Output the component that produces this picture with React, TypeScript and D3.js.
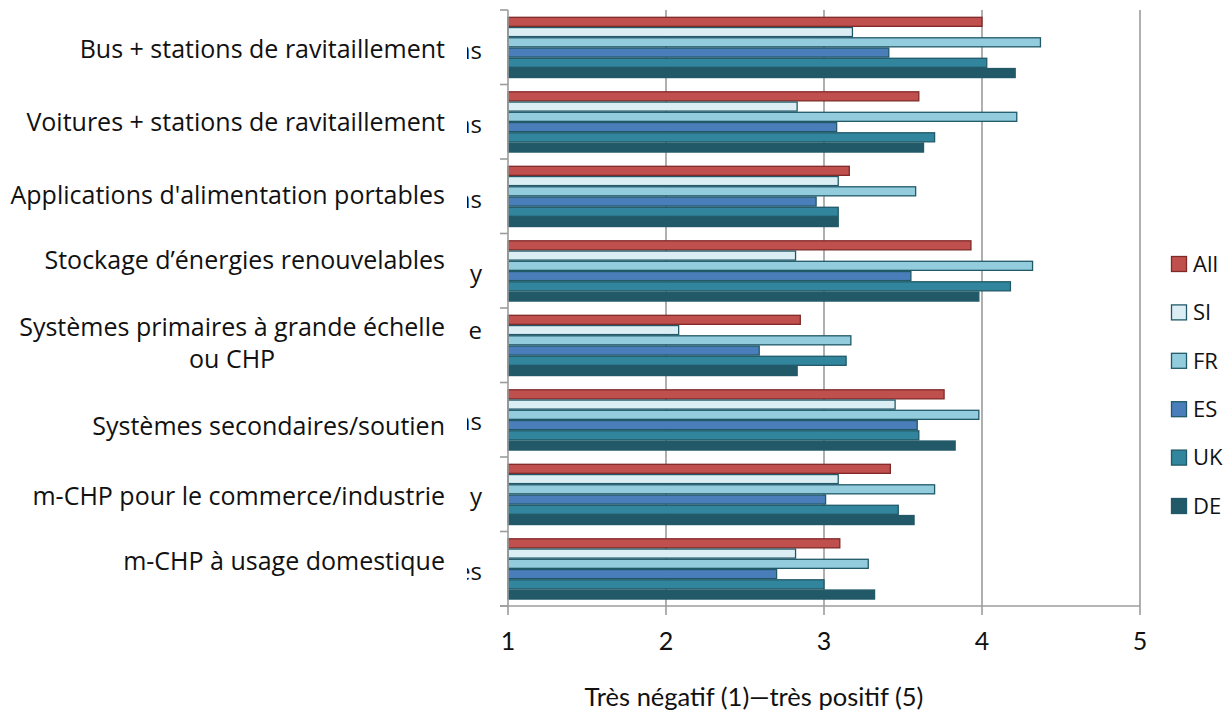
import React, { useRef, useEffect } from 'react';
import * as d3 from 'd3';

const categories = [
  'Bus + stations de ravitaillement',
  'Voitures + stations de ravitaillement',
  "Applications d'alimentation portables",
  'Stockage d’énergies renouvelables',
  'Systèmes primaires à grande échelle\nou CHP',
  'Systèmes secondaires/soutien',
  'm-CHP pour le commerce/industrie',
  'm-CHP à usage domestique',
];

// leftovers of the old labels that peek out next to the axis
const ghostLabels = ['ns', 'ns', 'ns', 'y', 'e', 'ns', 'y', 'es'];

const seriesNames = ['All', 'SI', 'FR', 'ES', 'UK', 'DE'];

const allValues = [4.0, 3.6, 3.16, 3.93, 2.85, 3.76, 3.42, 3.1];
const siValues = [3.18, 2.83, 3.09, 2.82, 2.08, 3.45, 3.09, 2.82];
const frValues = [4.37, 4.22, 3.58, 4.32, 3.17, 3.98, 3.7, 3.28];
const esValues = [3.41, 3.08, 2.95, 3.55, 2.59, 3.59, 3.01, 2.7];
const ukValues = [4.03, 3.7, 3.09, 4.18, 3.14, 3.6, 3.47, 3.0];
const deValues = [4.21, 3.63, 3.09, 3.98, 2.83, 3.83, 3.57, 3.32];

const xTicks = [1, 2, 3, 4, 5];
const xTitle = 'Très négatif (1)—très positif (5)';

const FILLS = ['#c0504d', '#dbeef3', '#93cddd', '#4a7ebb', '#31859c', '#215968'];
const STROKES = ['#7f2a28', '#215968', '#215968', '#215968', '#215968', '#215968'];

const W = 1227;
const H = 714;

export default function App() {
  const svgRef = useRef<SVGSVGElement>(null);

  useEffect(() => {
    document.body.style.margin = '0';
    document.body.style.overflow = 'hidden';

    const svg = d3.select(svgRef.current);
    svg.selectAll('*').remove();

    const series = [allValues, siValues, frValues, esValues, ukValues, deValues];
    const margin = { top: 10, right: 87, bottom: 108, left: 508 };
    const labelFont = '"Open Sans", sans-serif';
    const axisFont = 'Lato, "Open Sans", sans-serif';
    const gridColor = '#9c9c9c';

    const x = d3.scaleLinear().domain([1, 5]).range([margin.left, W - margin.right]);
    const y = d3.scaleBand<number>()
      .domain(d3.range(categories.length))
      .range([margin.top, H - margin.bottom])
      .paddingInner(0)
      .paddingOuter(0);
    const inner = d3.scaleBand<number>()
      .domain(d3.range(seriesNames.length))
      .range([y.bandwidth() * 0.09, y.bandwidth() * 0.915]);

    const plotBottom = H - margin.bottom;

    // vertical gridlines (plus tick marks below the axis)
    svg.append('g')
      .selectAll('line')
      .data(xTicks.slice(1))
      .join('line')
      .attr('x1', d => x(d))
      .attr('x2', d => x(d))
      .attr('y1', margin.top)
      .attr('y2', plotBottom + 9)
      .attr('stroke', gridColor)
      .attr('stroke-width', 1.6);

    // bars
    series.forEach((vals, si) => {
      svg.append('g')
        .selectAll('rect')
        .data(vals)
        .join('rect')
        .attr('x', x(1))
        .attr('y', (d, i) => (y(i) as number) + (inner(si) as number) + 0.6)
        .attr('width', d => x(d) - x(1))
        .attr('height', inner.bandwidth() - 1.2)
        .attr('fill', FILLS[si])
        .attr('stroke', STROKES[si])
        .attr('stroke-width', 1.3);
    });

    // y axis line and category ticks
    svg.append('line')
      .attr('x1', x(1)).attr('x2', x(1))
      .attr('y1', margin.top).attr('y2', plotBottom + 9)
      .attr('stroke', gridColor).attr('stroke-width', 1.6);
    svg.append('g')
      .selectAll('line')
      .data(d3.range(categories.length + 1))
      .join('line')
      .attr('x1', x(1) - 8)
      .attr('x2', x(1))
      .attr('y1', d => margin.top + d * y.step())
      .attr('y2', d => margin.top + d * y.step())
      .attr('stroke', gridColor)
      .attr('stroke-width', 1.6);

    // x axis line
    svg.append('line')
      .attr('x1', x(1) - 8).attr('x2', x(5))
      .attr('y1', plotBottom).attr('y2', plotBottom)
      .attr('stroke', gridColor).attr('stroke-width', 1.6);

    // x tick labels
    svg.append('g')
      .selectAll('text')
      .data(xTicks)
      .join('text')
      .attr('x', d => x(d))
      .attr('y', plotBottom + 35)
      .attr('dy', '0.35em')
      .attr('text-anchor', 'middle')
      .attr('font-family', axisFont)
      .attr('font-size', 25)
      .attr('fill', '#111')
      .text(d => d);

    // x axis title
    svg.append('text')
      .attr('x', (x(1) + x(5)) / 2 - 70)
      .attr('y', plotBottom + 91)
      .attr('dy', '0.35em')
      .attr('text-anchor', 'middle')
      .attr('font-family', axisFont)
      .attr('font-size', 25.5)
      .attr('fill', '#111')
      .text(xTitle);

    // ghost fragments next to the axis
    svg.append('clipPath')
      .attr('id', 'ghost-clip')
      .append('rect')
      .attr('x', 467).attr('y', 0).attr('width', 40).attr('height', H);
    const ghostShift = [3, 3, 3, 3, -15, 2, 2, 3];
    svg.append('g')
      .attr('clip-path', 'url(#ghost-clip)')
      .selectAll('text')
      .data(ghostLabels)
      .join('text')
      .attr('x', 482)
      .attr('y', (d, i) => (y(i) as number) + y.bandwidth() / 2 + ghostShift[i])
      .attr('dy', '0.35em')
      .attr('text-anchor', 'end')
      .attr('font-family', labelFont)
      .attr('font-size', 24)
      .attr('fill', '#111')
      .text(d => d);

    // category labels
    const labelShift = [2, 0, -1, -11, -2, 6, 2, -8];
    const lineGap = 32;
    const labelRight = 445;
    categories.forEach((label, i) => {
      const lines = label.split('\n');
      const cy = (y(i) as number) + y.bandwidth() / 2 + labelShift[i];
      const top = cy - ((lines.length - 1) * lineGap) / 2;
      const first = svg.append('text')
        .attr('x', labelRight)
        .attr('y', top)
        .attr('dy', '0.35em')
        .attr('text-anchor', 'end')
        .attr('font-family', labelFont)
        .attr('font-size', 25)
        .attr('fill', '#111')
        .text(lines[0]);
      if (lines.length > 1) {
        const w = (first.node() as SVGTextElement).getComputedTextLength();
        lines.slice(1).forEach((ln, k) => {
          svg.append('text')
            .attr('x', labelRight - w / 2)
            .attr('y', top + (k + 1) * lineGap)
            .attr('dy', '0.35em')
            .attr('text-anchor', 'middle')
            .attr('font-family', labelFont)
            .attr('font-size', 25)
            .attr('fill', '#111')
            .text(ln);
        });
      }
    });

    // legend
    const legendY = d3.scalePoint<number>()
      .domain(d3.range(seriesNames.length))
      .range([264, 506]);
    const legend = svg.append('g')
      .selectAll('g')
      .data(seriesNames)
      .join('g')
      .attr('transform', (d, i) => `translate(1171,${legendY(i)})`);
    legend.append('rect')
      .attr('x', 0.5).attr('y', -7.5)
      .attr('width', 15).attr('height', 15)
      .attr('fill', (d, i) => FILLS[i])
      .attr('stroke', (d, i) => STROKES[i])
      .attr('stroke-width', 1.3);
    legend.append('text')
      .attr('x', 22)
      .attr('dy', '0.35em')
      .attr('font-family', labelFont)
      .attr('font-size', 22)
      .attr('fill', '#111')
      .text(d => d);
  }, []);

  return <svg ref={svgRef} width={W} height={H} style={{ display: 'block', background: '#fff' }} />;
}
